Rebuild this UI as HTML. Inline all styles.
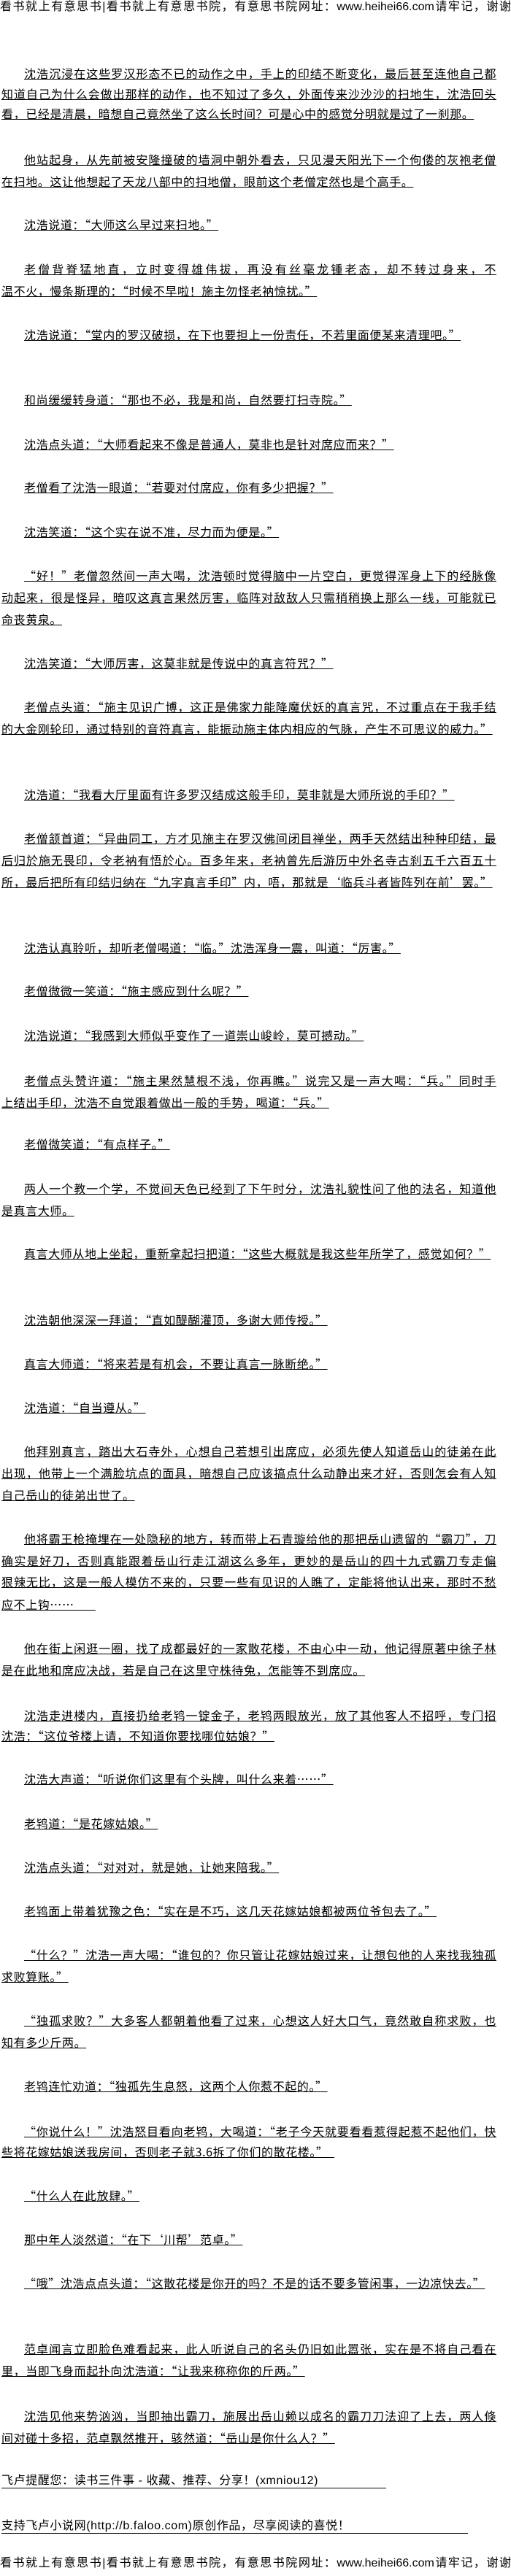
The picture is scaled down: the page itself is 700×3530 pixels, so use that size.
<!DOCTYPE html>
<html><head><meta charset="utf-8">
<style>
html,body{margin:0;padding:0;background:#fff;}
body{width:700px;height:3530px;position:relative;overflow:hidden;font-family:"Liberation Sans","Noto Sans CJK SC",sans-serif;color:#000;}
.l{position:absolute;font-size:16px;line-height:18px;white-space:nowrap;text-decoration:underline;letter-spacing:0.6px;font-family:"Noto Sans CJK SC",sans-serif;}
.i{left:33px;}
.n{left:2px;}
.f{text-align:justify;text-align-last:justify;white-space:normal;overflow:hidden;height:19px;}
.i.f{width:647px;}
.n.f{width:678px;}
.h{position:absolute;left:0;width:700px;font-size:16px;line-height:18px;text-align:justify;text-align-last:justify;letter-spacing:0;}
.lat{font-family:"Liberation Sans","Noto Sans CJK SC",sans-serif;}
.u{position:absolute;height:1px;background:#000;}
</style></head><body>
<div class="h" style="top:1px">看书就上有意思书|看书就上有意思书院，有意思书院网址：www.heihei66.com请牢记，谢谢</div>

<div class="l i f" style="top:91px">沈浩沉浸在这些罗汉形态不已的动作之中，手上的印结不断变化，最后甚至连他自己都不</div>
<div class="l n f" style="top:119px">知道自己为什么会做出那样的动作，也不知过了多久，外面传来沙沙沙的扫地生，沈浩回头一</div>
<div class="l n" style="top:146px">看，已经是清晨，暗想自己竟然坐了这么长时间？可是心中的感觉分明就是过了一刹那。</div>

<div class="l i f" style="top:209px">他站起身，从先前被安隆撞破的墙洞中朝外看去，只见漫天阳光下一个佝偻的灰袍老僧正</div>
<div class="l n" style="top:239px">在扫地。这让他想起了天龙八部中的扫地僧，眼前这个老僧定然也是个高手。</div>

<div class="l i" style="top:298px">沈浩说道：“大师这么早过来扫地。”</div>

<div class="l i f" style="top:359px">老僧背脊猛地直，立时变得雄伟拔，再没有丝毫龙锺老态，却不转过身来，不</div>
<div class="l n" style="top:389px">温不火，慢条斯理的：“时候不早啦！施主勿怪老衲惊扰。”</div>

<div class="l i" style="top:449px">沈浩说道：“堂内的罗汉破损，在下也要担上一份责任，不若里面便某来清理吧。”</div>

<div class="l i" style="top:538px">和尚缓缓转身道：“那也不必，我是和尚，自然要打扫寺院。”</div>
<div class="l i" style="top:599px">沈浩点头道：“大师看起来不像是普通人，莫非也是针对席应而来？”</div>
<div class="l i" style="top:658px">老僧看了沈浩一眼道：“若要对付席应，你有多少把握？”</div>
<div class="l i" style="top:719px">沈浩笑道：“这个实在说不准，尽力而为便是。”</div>

<div class="l i f" style="top:779px">“好！”老僧忽然间一声大喝，沈浩顿时觉得脑中一片空白，更觉得浑身上下的经脉像是震</div>
<div class="l n f" style="top:809px">动起来，很是怪异，暗叹这真言果然厉害，临阵对敌敌人只需稍稍换上那么一线，可能就已经</div>
<div class="l n" style="top:839px">命丧黄泉。</div>

<div class="l i" style="top:899px">沈浩笑道：“大师厉害，这莫非就是传说中的真言符咒？”</div>

<div class="l i f" style="top:959px">老僧点头道：“施主见识广博，这正是佛家力能降魔伏妖的真言咒，不过重点在于我手结</div>
<div class="l n" style="top:989px">的大金刚轮印，通过特别的音符真言，能振动施主体内相应的气脉，产生不可思议的威力。”</div>

<div class="l i" style="top:1079px">沈浩道：“我看大厅里面有许多罗汉结成这般手印，莫非就是大师所说的手印？”</div>

<div class="l i f" style="top:1139px">老僧颔首道：“异曲同工，方才见施主在罗汉佛间闭目禅坐，两手天然结出种种印结，最</div>
<div class="l n f" style="top:1169px">后归於施无畏印，令老衲有悟於心。百多年来，老衲曾先后游历中外名寺古刹五千六百五十二</div>
<div class="l n" style="top:1199px">所，最后把所有印结归纳在“九字真言手印”内，唔，那就是‘临兵斗者皆阵列在前’罢。”</div>

<div class="l i" style="top:1289px">沈浩认真聆听，却听老僧喝道：“临。”沈浩浑身一震，叫道：“厉害。”</div>
<div class="l i" style="top:1348px">老僧微微一笑道：“施主感应到什么呢？”</div>
<div class="l i" style="top:1409px">沈浩说道：“我感到大师似乎变作了一道崇山峻岭，莫可撼动。”</div>

<div class="l i f" style="top:1471px">老僧点头赞许道：“施主果然慧根不浅，你再瞧。”说完又是一声大喝：“兵。”同时手</div>
<div class="l n" style="top:1501px">上结出手印，沈浩不自觉跟着做出一般的手势，喝道：“兵。”</div>

<div class="l i" style="top:1558px">老僧微笑道：“有点样子。”</div>

<div class="l i f" style="top:1619px">两人一个教一个学，不觉间天色已经到了下午时分，沈浩礼貌性问了他的法名，知道他就</div>
<div class="l n" style="top:1649px">是真言大师。</div>

<div class="l i" style="top:1708px">真言大师从地上坐起，重新拿起扫把道：“这些大概就是我这些年所学了，感觉如何？”</div>

<div class="l i" style="top:1799px">沈浩朝他深深一拜道：“直如醍醐灌顶，多谢大师传授。”</div>
<div class="l i" style="top:1859px">真言大师道：“将来若是有机会，不要让真言一脉断绝。”</div>
<div class="l i" style="top:1919px">沈浩道：“自当遵从。”</div>

<div class="l i f" style="top:1979px">他拜别真言，踏出大石寺外，心想自己若想引出席应，必须先使人知道岳山的徒弟在此地</div>
<div class="l n f" style="top:2009px">出现，他带上一个满脸坑点的面具，暗想自己应该搞点什么动静出来才好，否则怎会有人知道</div>
<div class="l n" style="top:2039px">自己岳山的徒弟出世了。</div>

<div class="l i f" style="top:2099px">他将霸王枪掩埋在一处隐秘的地方，转而带上石青璇给他的那把岳山遗留的“霸刀”，刀</div>
<div class="l n f" style="top:2129px">确实是好刀，否则真能跟着岳山行走江湖这么多年，更妙的是岳山的四十九式霸刀专走偏锋，</div>
<div class="l n f" style="top:2158px">狠辣无比，这是一般人模仿不来的，只要一些有见识的人瞧了，定能将他认出来，那时不愁席</div>
<div class="l n" style="top:2189px">应不上钩……&nbsp;&nbsp;&nbsp;&nbsp;&nbsp;&nbsp;&nbsp;</div>

<div class="l i f" style="top:2249px">他在街上闲逛一圈，找了成都最好的一家散花楼，不由心中一动，他记得原著中徐子林就</div>
<div class="l n" style="top:2279px">是在此地和席应决战，若是自己在这里守株待兔，怎能等不到席应。</div>

<div class="l i f" style="top:2341px">沈浩走进楼内，直接扔给老鸨一锭金子，老鸨两眼放光，放了其他客人不招呼，专门招待</div>
<div class="l n" style="top:2369px">沈浩：“这位爷楼上请，不知道你要找哪位姑娘？”</div>

<div class="l i" style="top:2428px">沈浩大声道：“听说你们这里有个头牌，叫什么来着……”</div>
<div class="l i" style="top:2489px">老鸨道：“是花嫁姑娘。”</div>
<div class="l i" style="top:2549px">沈浩点头道：“对对对，就是她，让她来陪我。”</div>
<div class="l i" style="top:2609px">老鸨面上带着犹豫之色：“实在是不巧，这几天花嫁姑娘都被两位爷包去了。”</div>

<div class="l i f" style="top:2669px">“什么？”沈浩一声大喝：“谁包的？你只管让花嫁姑娘过来，让想包他的人来找我独孤</div>
<div class="l n" style="top:2699px">求败算账。”</div>

<div class="l i f" style="top:2759px">“独孤求败？”大多客人都朝着他看了过来，心想这人好大口气，竟然敢自称求败，也不</div>
<div class="l n" style="top:2789px">知有多少斤两。</div>

<div class="l i" style="top:2849px">老鸨连忙劝道：“独孤先生息怒，这两个人你惹不起的。”</div>

<div class="l i f" style="top:2911px">“你说什么！”沈浩怒目看向老鸨，大喝道：“老子今天就要看看惹得起惹不起他们，快</div>
<div class="l n" style="top:2939px">些将花嫁姑娘送我房间，否则老子就3.6拆了你们的散花楼。”&nbsp;&nbsp;</div>

<div class="l i" style="top:2999px">“什么人在此放肆。”</div>
<div class="l i" style="top:3059px">那中年人淡然道：“在下‘川帮’范卓。”</div>
<div class="l i" style="top:3119px">“哦”沈浩点点头道：“这散花楼是你开的吗？不是的话不要多管闲事，一边凉快去。”</div>

<div class="l i f" style="top:3209px">范卓闻言立即脸色难看起来，此人听说自己的名头仍旧如此嚣张，实在是不将自己看在眼</div>
<div class="l n" style="top:3239px">里，当即飞身而起扑向沈浩道：“让我来称称你的斤两。”</div>

<div class="l i f" style="top:3301px">沈浩见他来势汹汹，当即抽出霸刀，施展出岳山赖以成名的霸刀刀法迎了上去，两人倏然</div>
<div class="l n" style="top:3331px">间对碰十多招，范卓飘然推开，骇然道：“岳山是你什么人？”</div>

<div class="l n lat" style="top:3391px;text-decoration:none">飞卢提醒您：读书三件事 - 收藏、推荐、分享！(xmniou12)</div>
<div class="u" style="left:2px;width:527px;top:3409px"></div>
<div class="l n lat" style="top:3453px;text-decoration:none">支持飞卢小说网(http://b.faloo.com)原创作品，尽享阅读的喜悦！</div>
<div class="u" style="left:2px;width:639px;top:3471px"></div>

<div class="h" style="top:3504px">看书就上有意思书|看书就上有意思书院，有意思书院网址：www.heihei66.com请牢记，谢谢</div>
</body></html>
